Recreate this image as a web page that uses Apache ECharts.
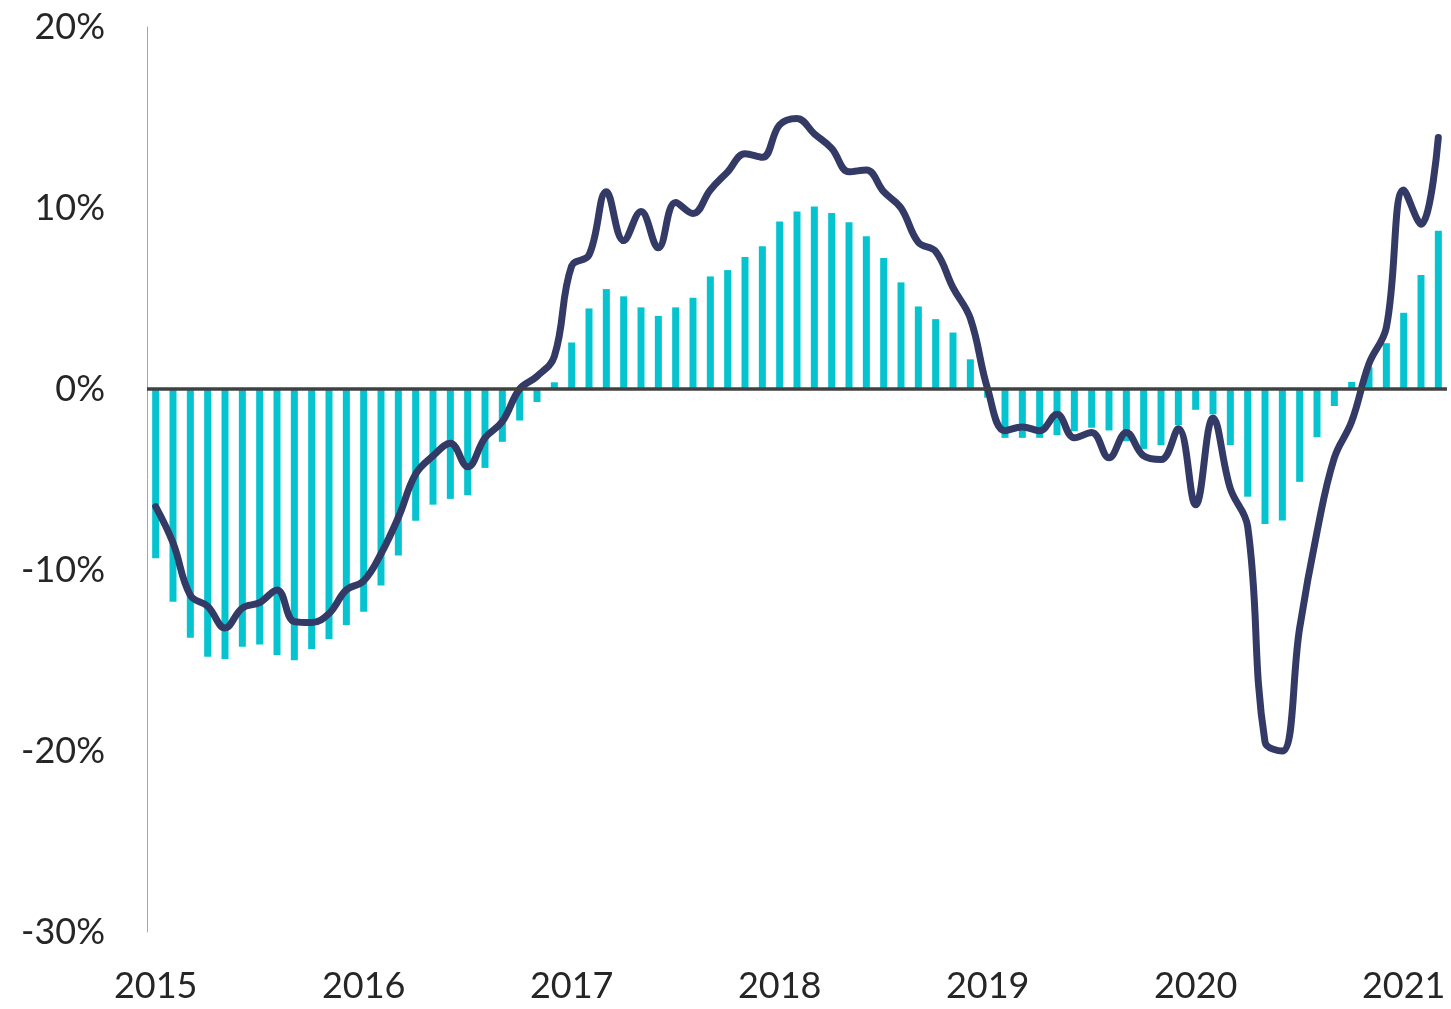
<!DOCTYPE html>
<html>
<head>
<meta charset="utf-8">
<script src="https://cdn.jsdelivr.net/npm/echarts@6/dist/echarts.min.js"></script>
<style>
  html, body { margin: 0; padding: 0; background: #fff; }
  #chart { width: 1451px; height: 1009px; }
</style>
</head>
<body>
<div id="chart"></div>
<script>
// monthly, Jan 2015 .. Mar 2021
var years = [2015, 2016, 2017, 2018, 2019, 2020, 2021];
var lastMonthOf2021 = 3;

var barValues = [
  -9.35, -11.75, -13.74, -14.79, -14.92, -14.24, -14.11, -14.7, -14.98, -14.37, -13.81, -13.04,
  -12.3, -10.86, -9.2, -7.28, -6.39, -6.07, -5.87, -4.36, -2.92, -1.74, -0.72, 0.37,
  2.57, 4.45, 5.52, 5.12, 4.51, 4.04, 4.51, 5.04, 6.22, 6.57, 7.29, 7.89,
  9.25, 9.8, 10.08, 9.73, 9.21, 8.44, 7.24, 5.89, 4.56, 3.86, 3.12, 1.64,
  -0.48, -2.7, -2.7, -2.7, -2.55, -2.33, -2.14, -2.29, -2.88, -3.31, -3.1, -1.99,
  -1.15, -1.4, -3.1, -5.95, -7.46, -7.26, -5.13, -2.66, -0.94, 0.39, 1.2, 2.53,
  4.21, 6.3, 8.75
];

var lineValues = [
  -6.5, -8.5, -11.4, -12.0, -13.2, -12.1, -11.8, -11.1, -12.85, -12.9, -12.4, -11.1,
  -10.6, -9.1, -7.1, -4.7, -3.7, -3.0, -4.3, -2.7, -1.8, 0.0, 0.7, 1.8,
  6.8, 7.4, 10.9, 8.2, 9.8, 7.8, 10.3, 9.7, 11.0, 12.0, 13.0, 12.8,
  14.6, 14.95, 14.1, 13.3, 12.0, 12.1, 10.9, 10.0, 8.1, 7.6, 5.6, 3.9,
  0.0, -2.3, -2.1, -2.3, -1.4, -2.7, -2.4, -3.8, -2.4, -3.7, -3.9, -2.2,
  -6.4, -1.6, -5.5, -7.6, -19.5, -20.0, -13.2, -7.9, -3.8, -1.8, 1.4, 3.4,
  11.0, 9.1, 13.9
];

var months = [];
years.forEach(function (y) {
  var n = (y === 2021) ? lastMonthOf2021 : 12;
  for (var m = 1; m <= n; m++) {
    months.push(y + '-' + (m < 10 ? '0' + m : m));
  }
});

var font = 'Lato, "Open Sans", sans-serif';

var chart = echarts.init(document.getElementById('chart'));
chart.setOption({
  animation: false,
  grid: { left: 147, right: 4, top: 27, bottom: 77 },
  xAxis: {
    type: 'category',
    data: months,
    axisLine: { show: false },
    axisTick: { show: false },
    axisLabel: {
      interval: 11,
      margin: 36,
      fontSize: 36,
      fontFamily: font,
      color: '#262626',
      formatter: function (v) { return v.slice(0, 4); }
    },
    splitLine: { show: false }
  },
  yAxis: {
    type: 'value',
    min: -30,
    max: 20,
    interval: 10,
    axisLine: { show: true, lineStyle: { color: '#a6a6a6', width: 1 } },
    axisTick: { show: false },
    splitLine: { show: false },
    axisLabel: {
      margin: 42,
      fontSize: 36,
      fontFamily: font,
      color: '#262626',
      formatter: '{value}%'
    }
  },
  series: [
    {
      type: 'bar',
      data: barValues,
      barWidth: 7,
      itemStyle: { color: '#06c4cf' },
      z: 2,
      markLine: {
        silent: true,
        symbol: 'none',
        label: { show: false },
        lineStyle: { color: '#404040', width: 3.5, type: 'solid' },
        data: [{ yAxis: 0 }]
      }
    },
    {
      type: 'line',
      data: lineValues,
      smooth: 0.4,
      symbol: 'none',
      lineStyle: { color: '#333a66', width: 7, cap: 'round', join: 'round' },
      z: 3
    }
  ]
});
</script>
</body>
</html>
